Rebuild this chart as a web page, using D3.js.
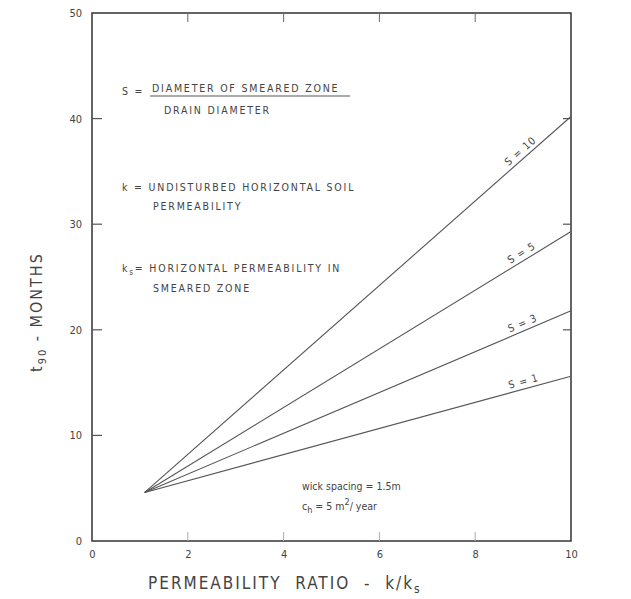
<!DOCTYPE html>
<html>
<head>
<meta charset="utf-8">
<script src="https://cdn.jsdelivr.net/npm/d3@7"></script>
<style>
  body { margin: 0; background: #fff; }
  text { font-family: "DejaVu Sans Condensed", "DejaVu Sans", sans-serif; fill: #444; }
</style>
</head>
<body>
<div id="chart"></div>
<script>
// Chart data
var xTicks = [0, 2, 4, 6, 8, 10];
var yTicks = [0, 10, 20, 30, 40, 50];
var sLabels = ["S = 1", "S = 3", "S = 5", "S = 10"];
var startPoint = [1.1, 4.6];          // all lines start here (ratio, months)
var endT90 = [15.6, 21.8, 29.3, 40.2]; // t90 at ratio = 10
var endRatio = 10;

window.onload = function() {

  var svgW = 631, svgH = 599;
  var margin = {left: 92, right: 60, top: 13, bottom: 58};
  var dataW = svgW - margin.left - margin.right;
  var dataH = svgH - margin.top - margin.bottom;

  var svg = d3.select("#chart").append("svg")
              .attr("width", svgW)
              .attr("height", svgH);

  var g = svg.append("g")
             .attr("transform", "translate(" + margin.left + "," + margin.top + ")");

  var xScale = d3.scaleLinear().domain([0, 10]).range([0, dataW]);
  var yScale = d3.scaleLinear().domain([0, 50]).range([dataH, 0]);

  // Frame
  g.append("rect")
    .attr("width", dataW)
    .attr("height", dataH)
    .attr("fill", "none")
    .attr("stroke", "#333")
    .attr("stroke-width", 1.5);

  // Axes, labels only (frame drawn above)
  var axisStyle = function(sel) {
    sel.select(".domain").remove();
    sel.selectAll(".tick line").remove();
    sel.selectAll(".tick text").style("font-size", "11px").attr("fill", "#555");
  };

  g.append("g")
    .attr("transform", "translate(0," + dataH + ")")
    .call(d3.axisBottom(xScale).tickValues(xTicks).tickSize(0).tickPadding(9))
    .call(axisStyle);

  g.append("g")
    .call(d3.axisLeft(yScale).tickValues(yTicks).tickSize(0).tickPadding(10))
    .call(axisStyle);

  // Inner ticks
  var innerX = xTicks.slice(1, -1);
  var innerY = yTicks.slice(1, -1);
  g.selectAll(".ltick").data(innerY).enter().append("line")
    .attr("x1", 0).attr("x2", 10)
    .attr("y1", function(d) { return yScale(d); })
    .attr("y2", function(d) { return yScale(d); })
    .attr("stroke", "#555").attr("stroke-width", 1.2);
  g.selectAll(".rtick").data(innerY.slice(1)).enter().append("line")
    .attr("x1", dataW - 8).attr("x2", dataW)
    .attr("y1", function(d) { return yScale(d); })
    .attr("y2", function(d) { return yScale(d); })
    .attr("stroke", "#555").attr("stroke-width", 1.2);
  g.selectAll(".ttick").data(innerX).enter().append("line")
    .attr("x1", function(d) { return xScale(d); })
    .attr("x2", function(d) { return xScale(d); })
    .attr("y1", 0).attr("y2", 9)
    .attr("stroke", "#666").attr("stroke-width", 1);
  g.selectAll(".btick").data(innerX).enter().append("line")
    .attr("x1", function(d) { return xScale(d); })
    .attr("x2", function(d) { return xScale(d); })
    .attr("y1", dataH).attr("y2", dataH - 9)
    .attr("stroke", "#aaa").attr("stroke-width", 1);

  // Lines for each S
  var lines = sLabels.map(function(lab, i) {
    return {label: lab, pts: [startPoint, [endRatio, endT90[i]]]};
  });
  var line = d3.line()
               .x(function(d) { return xScale(d[0]); })
               .y(function(d) { return yScale(d[1]); });

  g.selectAll(".sline").data(lines).enter().append("path")
    .attr("d", function(d) { return line(d.pts); })
    .attr("fill", "none")
    .attr("stroke", "#555")
    .attr("stroke-width", 1.1);

  // Labels along the lines
  g.selectAll(".slab").data(lines).enter().append("text")
    .attr("transform", function(d) {
      var p0 = d.pts[0], p1 = d.pts[1];
      var x0 = xScale(p0[0]), y0 = yScale(p0[1]), x1 = xScale(p1[0]), y1 = yScale(p1[1]);
      var t = (9.05 - p0[0]) / (p1[0] - p0[0]);
      var px = x0 + t * (x1 - x0), py = y0 + t * (y1 - y0);
      var ang = Math.atan2(y1 - y0, x1 - x0) * 180 / Math.PI;
      return "translate(" + px + "," + py + ") rotate(" + ang + ") translate(0,-4)";
    })
    .style("text-anchor", "middle")
    .style("font-size", "10.5px")
    .style("letter-spacing", "1px")
    .text(function(d) { return d.label; });

  // Definitions block
  var notes = g.append("g").style("font-size", "10.5px").style("letter-spacing", "1.8px");
  notes.append("text").attr("x", 30).attr("y", 82).text("S =");
  notes.append("text").attr("x", 60).attr("y", 79).text("DIAMETER OF SMEARED ZONE");
  notes.append("line")
    .attr("x1", 58).attr("x2", 258).attr("y1", 83).attr("y2", 83)
    .attr("stroke", "#555").attr("stroke-width", 1);
  notes.append("text").attr("x", 72).attr("y", 101).text("DRAIN DIAMETER");

  notes.append("text").attr("x", 30).attr("y", 178).text("k = UNDISTURBED HORIZONTAL SOIL");
  notes.append("text").attr("x", 61).attr("y", 197).text("PERMEABILITY");

  var ks = notes.append("text").attr("x", 30).attr("y", 259);
  ks.append("tspan").text("k");
  ks.append("tspan").attr("dy", 3).style("font-size", "8px").text("s");
  ks.append("tspan").attr("dy", -3).text("= HORIZONTAL PERMEABILITY IN");
  notes.append("text").attr("x", 61).attr("y", 279).text("SMEARED ZONE");

  // Parameters
  var params = g.append("g").style("font-size", "10.5px");
  params.append("text").attr("x", 210).attr("y", 477).text("wick spacing = 1.5m");
  var ch = params.append("text").attr("x", 210).attr("y", 497);
  ch.append("tspan").text("c");
  ch.append("tspan").attr("dy", 3).style("font-size", "9px").text("h");
  ch.append("tspan").attr("dy", -3).text(" = 5 m");
  ch.append("tspan").attr("dy", -5).style("font-size", "9px").text("2");
  ch.append("tspan").attr("dy", 5).text("/ year");

  // Axis titles
  var xt = svg.append("text")
    .attr("x", 148).attr("y", 589)
    .style("font-size", "17px")
    .style("white-space", "pre")
    .style("letter-spacing", "2px");
  xt.append("tspan").text("PERMEABILITY  RATIO  -  k/k");
  xt.append("tspan").attr("dy", 4).style("font-size", "12px").text("s");

  var yt = svg.append("text")
    .attr("transform", "translate(42," + 372 + ") rotate(-90)")
    .style("font-size", "16px")
    .style("white-space", "pre")
    .style("letter-spacing", "2px");
  yt.append("tspan").text("t");
  yt.append("tspan").attr("dy", 4).style("font-size", "11px").text("90");
  yt.append("tspan").attr("dy", -4).text(" - MONTHS");
};
</script>
</body>
</html>
